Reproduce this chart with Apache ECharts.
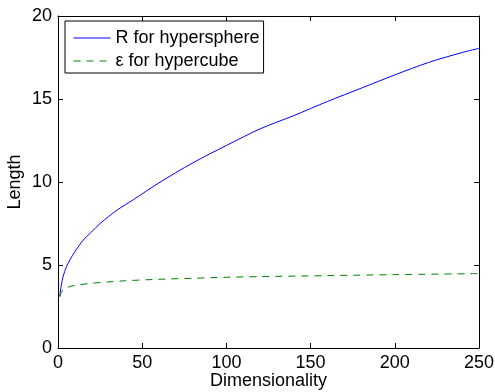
<!DOCTYPE html>
<html>
<head>
<meta charset="utf-8">
<script src="https://cdn.jsdelivr.net/npm/echarts@6/dist/echarts.min.js"></script>
<style>
  html, body { margin: 0; padding: 0; background: #fff; }
  #chart { width: 495px; height: 392px; }
</style>
</head>
<body>
<div id="chart"></div>
<script>
// values: [dimensionality, length]
const sphereR = [
  [1, 3.1], [2, 3.8], [3, 4.3], [5, 4.9], [7, 5.3], [10, 5.8], [15, 6.5],
  [20, 7.0], [25, 7.5], [35, 8.3], [45, 8.95], [60, 9.95], [80, 11.15],
  [100, 12.2], [120, 13.2], [140, 14.0], [160, 14.85], [180, 15.65],
  [200, 16.45], [220, 17.2], [240, 17.8], [250, 18.05]
];
const cubeEps = [
  [1, 3.1], [2, 3.35], [3, 3.5], [5, 3.62], [8, 3.73], [12, 3.8], [20, 3.9],
  [30, 3.98], [40, 4.05], [60, 4.14], [80, 4.2], [100, 4.26], [120, 4.3],
  [160, 4.36], [200, 4.42], [250, 4.48]
];
const seriesNames = ['R for hypersphere', 'ε for hypercube'];
const xTicks = { min: 0, max: 250, step: 50 };
const yTicks = { min: 0, max: 20, step: 5 };

const font = 'Liberation Sans, Arial, Helvetica, sans-serif';
const fs = 18;

var myChart = echarts.init(document.getElementById('chart'));

const boxAxis = (extra) => Object.assign({
  type: 'value',
  axisLine: { show: true, onZero: false, lineStyle: { color: '#000', width: 1 } },
  axisTick: { show: true, inside: true, length: 5, lineStyle: { color: '#000' } },
  splitLine: { show: false },
  axisLabel: { show: false }
}, extra);

var option = {
  animation: false,
  backgroundColor: '#fff',
  grid: { left: 58, right: 16, top: 16, bottom: 44, containLabel: false, outerBoundsMode: 'none' },
  legend: {
    orient: 'vertical',
    left: 65,
    top: 21,
    padding: [6, 4, 1, 8],
    itemWidth: 37,
    itemHeight: 14,
    itemGap: 1,
    backgroundColor: '#fff',
    borderColor: '#000',
    borderWidth: 1,
    borderRadius: 0,
    itemStyle: { opacity: 0 },
    lineStyle: { width: 1 },
    textStyle: { fontFamily: font, fontSize: 18, color: '#000', lineHeight: 22 },
    data: seriesNames
  },
  xAxis: [
    boxAxis({
      min: xTicks.min, max: xTicks.max, interval: xTicks.step,
      position: 'bottom',
      name: 'Dimensionality',
      nameLocation: 'middle',
      nameGap: 24,
      nameMoveOverlap: false,
      nameTextStyle: { fontFamily: font, fontSize: fs, color: '#000' },
      axisLabel: { show: true, margin: 6, fontFamily: font, fontSize: fs, color: '#000' }
    }),
    boxAxis({ min: xTicks.min, max: xTicks.max, interval: xTicks.step, position: 'top' })
  ],
  yAxis: [
    boxAxis({
      min: yTicks.min, max: yTicks.max, interval: yTicks.step,
      position: 'left',
      name: 'Length',
      nameLocation: 'middle',
      nameGap: 34,
      nameMoveOverlap: false,
      nameTextStyle: { fontFamily: font, fontSize: fs, color: '#000' },
      axisLabel: { show: true, margin: 6, fontFamily: font, fontSize: fs, color: '#000' }
    }),
    boxAxis({ min: yTicks.min, max: yTicks.max, interval: yTicks.step, position: 'right' })
  ],
  series: [
    {
      name: seriesNames[0],
      type: 'line',
      xAxisIndex: 0, yAxisIndex: 0,
      data: sphereR,
      smooth: 0.3,
      symbol: 'none',
      color: '#0000ff',
      lineStyle: { color: '#0000ff', width: 1 }
    },
    {
      name: seriesNames[1],
      type: 'line',
      xAxisIndex: 0, yAxisIndex: 0,
      data: cubeEps,
      smooth: 0.3,
      symbol: 'none',
      color: '#008000',
      lineStyle: { color: '#008000', width: 1, type: [7, 6] }
    }
  ]
};
option && myChart.setOption(option);
</script>
</body>
</html>
